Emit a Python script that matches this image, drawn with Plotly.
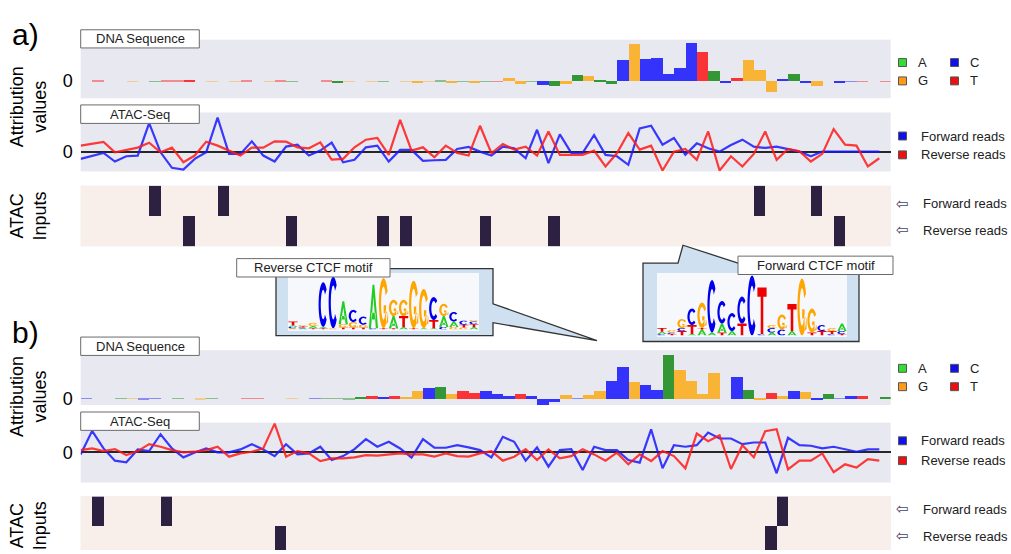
import math
import plotly.graph_objects as go

W, H = 1011, 554
N = 71

# ---------------- data ----------------
seq_a = list("GTACGCATTT" "AGCGTAGTAC" "CTAGCGACGG" "GAGAGATGGA" "CAGAGAACGC"
             "CCCCTACTGG" "GCACGACCTA" "T")
vals_a = [0, 0.5, 0, 0, 0.4, 0, 0.4, 0.5, 0.5, 1.0,
          0, -0.5, 0, 0.4, 0.5, 0, 0.4, 0.5, 0.4, 0,
          0, 0.5, -1.0, 0.4, 0, 0.4, -0.4, 0, -0.5, -1.0,
          -0.5, 0.5, -1.0, 0.4, -1.5, 0.3, 0.3, 3, -3, 0.3,
          -4, -5, -3, 6, 5, 1, -3, 22, 38, 23,
          24, 7, 13, 39, 30, 10, -1, 3, 22, 11,
          -11, 2.7, 7, -1.5, -5, 0, -2, 0.3, 0.3, 0,
          0.3]
atac_a_fwd = [-7.3, -4, -1.3, -10, -4.7, -4, 28.7, -0.7, -16.3, -18,
              -7.3, -0.7, 34.3, -2.3, -2.3, 10.3, -4, -10, 5, 7,
              -4, 1, 9, -10.7, -8.3, 4.3, 6, -10, 1.7, 1.7,
              -9.3, -8.7, -8.3, 2.7, 4.7, 0, -4, 5, 3.3, -6.7,
              22, -11.7, 17.3, -1.3, -1.3, 16.7, -3.3, -4.7, -13.3, 23.3,
              26, 7, 13.7, -3.3, 8.3, 3.3, 0, 6.7, 12, 5,
              3.7, 5, 2.7, 0, -4.7, 0, 0, 0, 0, 0,
              0]
atac_a_rev = [6, 8, 9.7, -0.7, 2, 4, 9, -0.7, 4, -10.7,
              -4, 10, 6, 1, -4, 4, 4, 10.3, 10, 4.3,
              3.3, 9.3, -8, -7.3, 4.3, 12, 13.7, -3.3, 32, 1,
              4.3, -5.7, 6, -1.3, -4, 26, -1.7, 7.7, 2, 5,
              -4, 20.3, -3.3, -3.3, -3.3, 1, -15, -1.7, 18.7, 2,
              6, -19, 0, 2.7, -8.3, 20.3, -19, -4.7, -15, -2.3,
              20.3, -8.3, 2.7, 0.3, -10, -2.3, 22.7, 7, 6, -15,
              -6.7]
inputs_a_fwd = [6, 12, 59, 64]
inputs_a_rev = [9, 18, 26, 28, 35, 41, 66]

seq_b = list("CATAGCCTAC" "GAGCTTACGA" "CAAAATCTGG" "CAGTTCCCTC" "CCGCGGCCGC"
             "CAGGGGTCAG" "TGCGCACCTA" "A")
vals_b = [0.4, 0, 0, 0.4, 0.4, -0.7, 0.3, 0, 0.4, 0,
          -0.7, 0.4, 0, 0, 0.5, 0.5, 0, 0, 0.4, 0,
          0.3, 0.4, 0.4, -0.4, 1.7, 2.5, 1.5, 2.5, 1, 7.7,
          10.7, 11.7, 5, 8, 6, 8, 5, 3, 4.5, 3,
          -7.3, -3, 3.5, 0.3, 3.5, 8, 17.7, 32, 16.7, 13.7,
          9, 43.7, 29, 18, 5, 26, 0, 22, 9, -1,
          6, 3, 7.7, 7, -1.7, 5, 0.3, 3, 3, 0,
          1]
atac_b_fwd = [-2, 21.7, 4, -8.3, -10, 3, 1.3, 18.3, 4, -5,
              0, 4, 0, 0, 3, 8.3, 3, -3.7, 8.3, -2,
              -1, 5.7, -7.7, -3.7, 3.3, 13.3, 5.7, 10.7, 4, -5.3,
              13.3, 4.7, 4.7, 7.3, 5, 2.3, -5, 15.7, 10.7, -8.3,
              5, -14.3, 2.3, 3.3, -17.7, 5.7, 2.3, 2.3, -7.7, -10.3,
              23.3, -16, 7.3, 5.7, 7.3, 20, 14, 14, 8.3, 10,
              10, -21, 14.7, 7.3, 6.7, 4, 5.7, 3, 0.7, 3,
              3]
atac_b_rev = [2.3, 4, 1.3, 3.3, -2.7, 1.3, 8.3, 5.7, 2.3, 0,
              0.7, 2.3, 5.7, -4.3, -1, 0.7, 4, 29, -4.3, 1.3,
              -1, -8.7, -6, -6, -5, -2.7, -3.3, -2, -1, -2,
              -2, -4.3, -1, -3.7, -4.3, -1, 1.3, -8.3, -4.3, 3.3,
              -7.7, 3, -6, -3.7, 3.3, -2, -8.3, -0.3, -12, -2,
              -8.7, 1.3, -3.7, -16, 19, 11.3, 17.3, -16.7, 7.3, -5,
              21.3, 23.3, -17, -8.3, -8.3, -1, -20, -12, -15.3, -6.7,
              -8.3]
inputs_b_fwd = [1, 7, 61]
inputs_b_rev = [17, 60]

# sequence logos: columns, letters stacked bottom -> top with heights (bits)
logo_reverse = [
    [("G", .05), ("C", .05), ("A", .06), ("T", .14)],
    [("A", .04), ("C", .04), ("T", .04), ("G", .05)],
    [("T", .05), ("A", .08), ("G", .12)],
    [("T", .05), ("A", .05), ("C", 1.65)],
    [("G", .05), ("C", 1.9)],
    [("T", .08), ("G", .12), ("A", .85)],
    [("T", .08), ("G", .2), ("C", .45)],
    [("T", .08), ("G", .1), ("C", .3)],
    [("C", .05), ("A", 1.6)],
    [("T", .05), ("G", 1.85)],
    [("T", .05), ("A", .45), ("G", .6)],
    [("A", .1), ("T", .4), ("G", .6)],
    [("T", .05), ("G", 1.75)],
    [("A", .05), ("G", 1.45)],
    [("A", .05), ("T", .3), ("C", .85)],
    [("C", .1), ("A", .4), ("G", .45)],
    [("G", .1), ("A", .2), ("C", .35)],
    [("G", .08), ("T", .1), ("C", .15)],
    [("A", .1), ("T", .1), ("C", .1), ("G", .05)],
]
logo_forward = [
    [("C", .05), ("A", .08), ("T", .12)],
    [("T", .05), ("C", .05), ("G", .08)],
    [("T", .15), ("C", .1), ("G", .3)],
    [("A", .05), ("T", .3), ("C", .55)],
    [("A", .2), ("T", .05), ("G", .85)],
    [("A", .1), ("C", 1.75)],
    [("T", .1), ("A", .3), ("C", .75)],
    [("A", .15), ("C", .6)],
    [("T", .4), ("C", .9)],
    [("C", 2.0)],
    [("C", .05), ("T", 1.55)],
    [("A", .1), ("C", .15), ("G", .1)],
    [("C", .2), ("G", .5)],
    [("A", .15), ("T", .9)],
    [("G", 1.9)],
    [("T", .1), ("G", .8)],
    [("T", .15), ("C", .2)],
    [("C", .05), ("T", .1), ("G", .1)],
    [("T", .05), ("C", .1), ("A", .25)],
]

bar_colors = {"A": "green", "C": "blue", "G": "orange", "T": "red"}
logo_colors = {"A": "#22cc22", "C": "#0000ee", "G": "#ffa500", "T": "#ee0000"}
legend_colors = {"A": "#33dd33", "C": "#1010ee", "G": "#ff9a1a", "T": "#ee1010"}
FONT = "Liberation Sans, Arial, sans-serif"


def PX(x):
    return x / W


def PY(y):
    return 1 - y / H


XD = [PX(80.7), PX(890.7)]
xc = [j + 0.5 for j in range(N)]
xl = list(range(N))

fig = go.Figure()
layout_axes = {}


def axname(i):
    return ("xaxis" if i == 1 else f"xaxis{i}", "yaxis" if i == 1 else f"yaxis{i}",
            "x" if i == 1 else f"x{i}", "y" if i == 1 else f"y{i}")


def set_axes(i, ytop, ybot, yrange, kind):
    xn, yn, xa, ya = axname(i)
    layout_axes[xn] = dict(domain=XD, range=[0, N], visible=False, anchor=ya, fixedrange=True)
    yd = dict(domain=[PY(ybot), PY(ytop)], range=yrange, anchor=xa, showgrid=False, fixedrange=True)
    if kind == "inp":
        yd["visible"] = False
    else:
        yd.update(tickmode="array", tickvals=[0], ticktext=["0"], ticks="",
                  tickfont=dict(size=18, color="black", family=FONT), showline=False,
                  zeroline=(kind == "atac"), zerolinecolor="#262626", zerolinewidth=2,
                  ticklabelstandoff=7)
    layout_axes[yn] = yd


def add_panel(base, seq, vals, fwd, rev, in_fwd, in_rev, geo):
    i1, i2, i3 = base + 1, base + 2, base + 3
    _, _, xa1, ya1 = axname(i1)
    _, _, xa2, ya2 = axname(i2)
    _, _, xa3, ya3 = axname(i3)
    # near-zero attributions render as faint hairlines, as in the original
    bar_alpha = [0.78 if abs(v) >= 1 else 0.4 for v in vals]
    fig.add_trace(go.Bar(x=xc, y=vals, width=1,
                         marker=dict(color=[bar_colors[s] for s in seq], opacity=bar_alpha,
                                     line=dict(width=0)),
                         xaxis=xa1, yaxis=ya1, hoverinfo="skip", showlegend=False))
    fig.add_trace(go.Scatter(x=xl, y=fwd, mode="lines", line=dict(color="rgba(25,25,255,0.85)", width=2.2),
                             xaxis=xa2, yaxis=ya2, hoverinfo="skip", showlegend=False))
    fig.add_trace(go.Scatter(x=xl, y=rev, mode="lines", line=dict(color="rgba(255,25,25,0.85)", width=2.2),
                             xaxis=xa2, yaxis=ya2, hoverinfo="skip", showlegend=False))
    z = [[1 if j in in_rev else 0 for j in range(N)],
         [1 if j in in_fwd else 0 for j in range(N)]]
    fig.add_trace(go.Heatmap(x=xc, y=[0, 1], z=z, zmin=0, zmax=1,
                             colorscale=[[0, "#f9efea"], [1, "#2c2140"]], showscale=False,
                             xaxis=xa3, yaxis=ya3, hoverinfo="skip"))
    set_axes(i1, *geo["dna"], "dna")
    set_axes(i2, *geo["atac"], "atac")
    set_axes(i3, *geo["inp"], "inp")


add_panel(0, seq_a, vals_a, atac_a_fwd, atac_a_rev, inputs_a_fwd, inputs_a_rev,
          dict(dna=(40, 99, [-17.3, 41.7]), atac=(113.3, 172.7, [-20, 39.4]), inp=(187, 248, [-0.5, 1.5])))
add_panel(3, seq_b, vals_b, atac_b_fwd, atac_b_rev, inputs_b_fwd, inputs_b_rev,
          dict(dna=(352.7, 408, [-6.3, 49]), atac=(425.7, 486, [-30.3, 30]), inp=(500, 554, [-0.3, 1.5])))

# logo axes
logo_boxes = {7: (288, 479, 276, 332), 8: (657, 847, 276, 338)}
for i, (x0, x1, y0, y1) in logo_boxes.items():
    xn, yn, xa, ya = axname(i)
    layout_axes[xn] = dict(domain=[PX(x0), PX(x1)], range=[0, 19], visible=False, anchor=ya, fixedrange=True)
    layout_axes[yn] = dict(domain=[PY(y1), PY(y0)], range=[0, 2.05], visible=False, anchor=xa, fixedrange=True)
    fig.add_trace(go.Scatter(x=[0.5], y=[0.01], mode="markers", marker=dict(opacity=0),
                             xaxis=xa, yaxis=ya, hoverinfo="skip", showlegend=False))

shapes = []
annotations = []


def ppath(pts):
    return "M" + "L".join(f"{x:.5f},{y:.5f}" for x, y in pts) + "Z"


def paper_poly(pts):
    return ppath([(PX(x), PY(y)) for x, y in pts])


def paper_rect(x0, y0, x1, y1, fill, line, lw=1):
    shapes.append(dict(type="rect", xref="paper", yref="paper", x0=PX(x0), x1=PX(x1), y0=PY(y1), y1=PY(y0),
                       fillcolor=fill, line=dict(color=line, width=lw), layer="above"))


# callout boxes
callout_fill = "#cfe0f1"
shapes.append(dict(type="path", xref="paper", yref="paper", layer="above",
                   path=paper_poly([(276, 270.5), (493, 270.5), (493, 306), (597, 343), (493, 325),
                                    (493, 338), (276, 338)]),
                   fillcolor=callout_fill, line=dict(color="#333333", width=1.3)))
shapes.append(dict(type="path", xref="paper", yref="paper", layer="above",
                   path=paper_poly([(643, 265), (678, 265), (683, 247), (738, 265), (859, 265),
                                    (859, 344), (643, 344)]),
                   fillcolor=callout_fill, line=dict(color="#333333", width=1.3)))
for i, (x0, x1, y0, y1) in logo_boxes.items():
    paper_rect(x0, y0 - 1, x1, y1 + 1.5, "#f6f8fc", "rgba(0,0,0,0)", 0)


def glyph(letter, x0, y0, w, h):
    def T(u, v):
        return (x0 + u * w, y0 + v * h)
    subs = []
    if letter in "CG":
        a0, a1 = (42, 318) if letter == "C" else (28, 335)
        n = 24
        outer = [T(0.5 + 0.5 * math.cos(math.radians(a0 + (a1 - a0) * k / n)),
                   0.5 + 0.5 * math.sin(math.radians(a0 + (a1 - a0) * k / n))) for k in range(n + 1)]
        inner = [T(0.5 + 0.26 * math.cos(math.radians(a1 - (a1 - a0) * k / n)),
                   0.5 + 0.33 * math.sin(math.radians(a1 - (a1 - a0) * k / n))) for k in range(n + 1)]
        subs.append(outer + inner)
        if letter == "G":
            subs.append([T(0.52, 0.30), T(1.0, 0.30), T(1.0, 0.46), T(0.52, 0.46)])
            subs.append([T(0.78, 0.08), T(1.0, 0.12), T(1.0, 0.46), T(0.78, 0.46)])
    elif letter == "A":
        subs.append([T(0, 0), T(0.4, 1), T(0.6, 1), T(1, 0), T(0.76, 0), T(0.5, 0.72), T(0.24, 0)])
        subs.append([T(0.28, 0.2), T(0.72, 0.2), T(0.72, 0.36), T(0.28, 0.36)])
    elif letter == "T":
        subs.append([T(0, 0.8), T(1, 0.8), T(1, 1), T(0, 1)])
        subs.append([T(0.36, 0), T(0.64, 0), T(0.64, 0.8), T(0.36, 0.8)])
    return "".join(ppath(s) for s in subs)


for i, logo in ((7, logo_reverse), (8, logo_forward)):
    _, _, xa, ya = axname(i)
    for c, col in enumerate(logo):
        ybase = 0.0
        for letter, hgt in col:
            shapes.append(dict(type="path", xref=xa, yref=ya, layer="above",
                               path=glyph(letter, c + 0.04, ybase, 0.92, hgt),
                               fillcolor=logo_colors[letter], line=dict(width=0)))
            ybase += hgt

# label boxes
label_boxes = [
    ("DNA Sequence", 80.7, 30, 199.3, 48.3),
    ("ATAC-Seq", 80.7, 105.7, 199.3, 124.3),
    ("DNA Sequence", 80.7, 339.5, 199.3, 358),
    ("ATAC-Seq", 80.7, 415, 199.3, 433.5),
    ("Reverse CTCF motif", 236.7, 260.5, 390, 279),
    ("Forward CTCF motif", 738, 258, 893, 276.5),
]
for text, x0, y0, x1, y1 in label_boxes:
    paper_rect(x0, y0, x1, y1, "white", "#6b6b6b", 1)
    annotations.append(dict(text=text, x=PX((x0 + x1) / 2), y=PY((y0 + y1) / 2), xref="paper", yref="paper",
                            showarrow=False, xanchor="center", yanchor="middle",
                            font=dict(size=13, color="#222222", family=FONT)))

# panel letters and side titles
for txt, x, y, size in [("a)", 25, 35, 30), ("b)", 25, 335, 30)]:
    annotations.append(dict(text=txt, x=PX(x), y=PY(y), xref="paper", yref="paper", showarrow=False,
                            xanchor="center", yanchor="middle", font=dict(size=size, color="black", family=FONT)))
for txt, x, y in [("Attribution<br>values", 28, 108), ("ATAC<br>Inputs", 28, 218),
                  ("Attribution<br>values", 28, 400), ("ATAC<br>Inputs", 28, 530)]:
    annotations.append(dict(text=txt, x=PX(x), y=PY(y), xref="paper", yref="paper", showarrow=False,
                            textangle=-90, xanchor="center", yanchor="middle",
                            font=dict(size=18, color="black", family=FONT)))

# legends
nuc_legend = [("A", 0, 0), ("C", 1, 0), ("G", 0, 1), ("T", 1, 1)]
for yA, yG, yF, yR, yIF, yIR in [(63, 81.5, 137, 156, 205, 232), (371, 389.5, 444, 464, 513, 540)]:
    for letter, cx, ry in nuc_legend:
        x0 = 898.5 + cx * 52
        yc = yA if ry == 0 else yG
        paper_rect(x0, yc - 4, x0 + 8, yc + 4, legend_colors[letter], "#555555", 1)
        annotations.append(dict(text=letter, x=PX(x0 + 17), y=PY(yc), xref="paper", yref="paper",
                                showarrow=False, xanchor="left", yanchor="middle",
                                font=dict(size=13, color="#222222", family=FONT)))
    for txt, col, yc in [("Forward reads", "#1010ee", yF), ("Reverse reads", "#ee1010", yR)]:
        paper_rect(898.5, yc - 4, 906.5, yc + 4, col, "#555555", 1)
        annotations.append(dict(text=txt, x=PX(919), y=PY(yc), xref="paper", yref="paper",
                                showarrow=False, xanchor="left", yanchor="middle",
                                font=dict(size=13, color="#222222", family=FONT)))
    for txt, yc in [("Forward reads", yIF), ("Reverse reads", yIR)]:
        annotations.append(dict(text="\u21e6", x=PX(902.5), y=PY(yc), xref="paper", yref="paper",
                                showarrow=False, xanchor="center", yanchor="middle",
                                font=dict(size=15, color="#444466", family="DejaVu Sans")))
        annotations.append(dict(text=txt, x=PX(921), y=PY(yc), xref="paper", yref="paper",
                                showarrow=False, xanchor="left", yanchor="middle",
                                font=dict(size=13, color="#222222", family=FONT)))

fig.update_layout(
    width=W, height=H, autosize=False,
    margin=dict(l=0, r=0, t=0, b=0, pad=0),
    paper_bgcolor="white", plot_bgcolor="#e8e8f0",
    bargap=0, showlegend=False,
    font=dict(family=FONT, color="black"),
    shapes=shapes, annotations=annotations,
    **layout_axes,
)

fig.write_html("out.html", post_script="document.body.style.margin='0';",
               config={"displayModeBar": False})
